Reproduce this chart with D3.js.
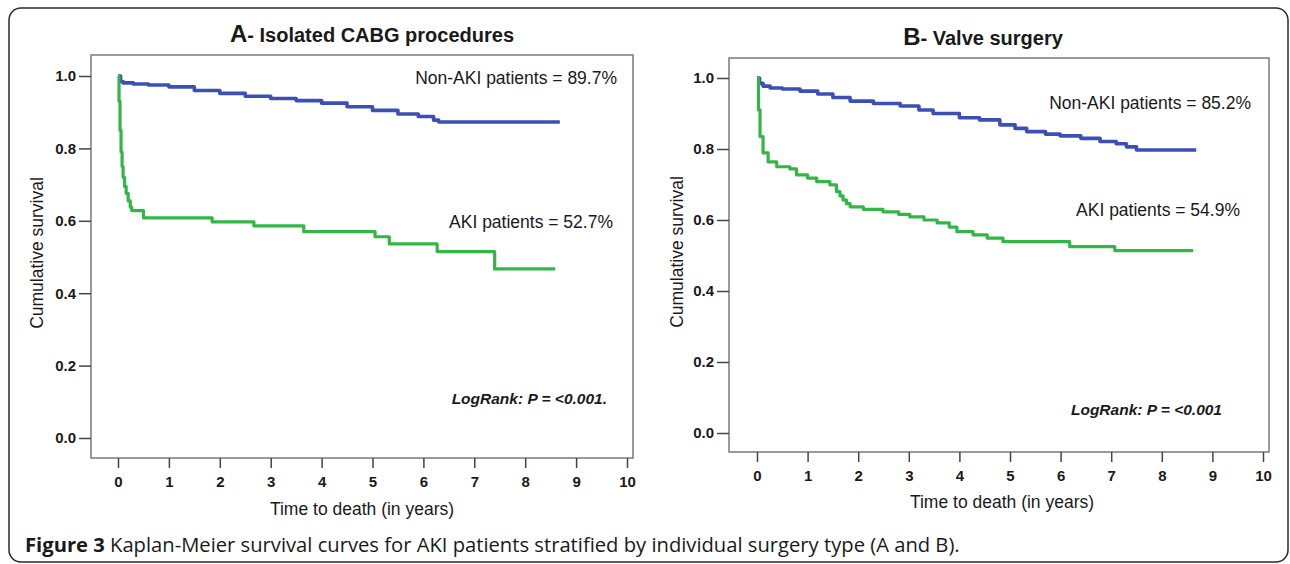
<!DOCTYPE html>
<html>
<head>
<meta charset="utf-8">
<script src="https://cdn.jsdelivr.net/npm/d3@7/dist/d3.min.js"></script>
<style>
  body { margin: 0; background: #fff; }
  text { font-family: "Liberation Sans", Arial, sans-serif; fill: #1a1a1a; }
</style>
</head>
<body>
<div id="chart"></div>
<script>
// survival data (time in years, cumulative survival)
const cabgNonAkiTime = [0, 0.05, 0.1, 0.3, 0.6, 1.0, 1.5, 2.0, 2.5, 3.0, 3.5, 4.0, 4.5, 5.0, 5.5, 5.9, 6.2, 6.3, 8.68];
const cabgNonAkiSurv = [1.0, 0.985, 0.981, 0.978, 0.975, 0.970, 0.960, 0.952, 0.944, 0.938, 0.932, 0.925, 0.915, 0.905, 0.895, 0.888, 0.878, 0.873, 0.873];
const cabgAkiTime = [0, 0.02, 0.04, 0.06, 0.08, 0.1, 0.13, 0.16, 0.2, 0.24, 0.27, 0.5, 1.85, 2.67, 3.65, 5.05, 5.33, 6.27, 7.4, 8.59];
const cabgAkiSurv = [1.0, 0.93, 0.85, 0.79, 0.75, 0.72, 0.695, 0.676, 0.655, 0.638, 0.628, 0.608, 0.597, 0.586, 0.570, 0.556, 0.536, 0.515, 0.467, 0.467];

const valveNonAkiTime = [0, 0.05, 0.12, 0.26, 0.5, 0.85, 1.2, 1.5, 1.84, 2.3, 2.83, 3.2, 3.48, 4.0, 4.4, 4.8, 5.1, 5.33, 5.7, 5.99, 6.4, 6.78, 7.1, 7.3, 7.5, 8.68];
const valveNonAkiSurv = [1.0, 0.985, 0.977, 0.972, 0.969, 0.963, 0.955, 0.945, 0.935, 0.928, 0.921, 0.91, 0.9, 0.888, 0.882, 0.868, 0.858, 0.849, 0.842, 0.837, 0.83, 0.821, 0.815, 0.806, 0.797, 0.797];
const valveAkiTime = [0, 0.03, 0.06, 0.12, 0.22, 0.39, 0.65, 0.78, 1.0, 1.18, 1.44, 1.57, 1.64, 1.70, 1.77, 1.84, 2.1, 2.49, 2.8, 3.02, 3.3, 3.56, 3.8, 3.95, 4.27, 4.55, 4.86, 6.18, 7.07, 8.62];
const valveAkiSurv = [1.0, 0.91, 0.835, 0.789, 0.764, 0.75, 0.744, 0.727, 0.718, 0.708, 0.699, 0.68, 0.668, 0.656, 0.646, 0.637, 0.63, 0.623, 0.616, 0.609, 0.6, 0.592, 0.58, 0.567, 0.558, 0.549, 0.539, 0.525, 0.514, 0.514];

const xTicks = [0, 1, 2, 3, 4, 5, 6, 7, 8, 9, 10];
const yTicks = [0, 0.2, 0.4, 0.6, 0.8, 1.0];

const blue = "#3c4fb5";
const green = "#34b548";

const svg = d3.select("#chart").append("svg")
  .attr("width", 1290)
  .attr("height", 564);

// outer rounded frame
svg.append("rect")
  .attr("x", 9).attr("y", 8)
  .attr("width", 1279).attr("height", 554)
  .attr("rx", 12)
  .attr("fill", "none")
  .attr("stroke", "#2a2a2a")
  .attr("stroke-width", 1.5);

function drawPanel(p) {
  const g = svg.append("g");

  const x = d3.scaleLinear().domain([0, 10]).range([p.x0, p.x10]);
  const y = d3.scaleLinear().domain([0, 1]).range([p.y0, p.y1]);

  // plot box
  g.append("rect")
    .attr("x", p.left).attr("y", p.top)
    .attr("width", p.right - p.left).attr("height", p.bottom - p.top)
    .attr("fill", "none")
    .attr("stroke", "#7a7a7a")
    .attr("stroke-width", 1.5);

  // y axis
  const yAxis = g.append("g")
    .attr("transform", `translate(${p.left},0)`)
    .call(d3.axisLeft(y).tickValues(yTicks).tickFormat(d3.format(".1f")).tickSize(12).tickPadding(3));
  yAxis.select(".domain").remove();

  // x axis
  const xAxis = g.append("g")
    .attr("transform", `translate(0,${p.bottom})`)
    .call(d3.axisBottom(x).tickValues(xTicks).tickSize(10).tickPadding(8));
  xAxis.select(".domain").remove();

  [xAxis, yAxis].forEach(a => a
    .attr("font-family", "'Liberation Sans', Arial, sans-serif")
    .attr("font-size", 15)
    .attr("font-weight", "bold"));

  g.selectAll(".tick line").attr("stroke", "#444").attr("stroke-width", 1.5);
  g.selectAll(".tick text").attr("fill", "#1a1a1a");

  // curves
  const line = d3.line()
    .x(d => x(d[0]))
    .y(d => y(d[1]))
    .curve(d3.curveStepAfter);

  p.series.forEach(s => {
    g.append("path")
      .datum(d3.zip(s.time, s.surv))
      .attr("fill", "none")
      .attr("stroke", s.color)
      .attr("stroke-width", s.width)
      .attr("stroke-linejoin", "round")
      .attr("d", line);
  });

  // title
  const t = g.append("text")
    .attr("x", p.titleX).attr("y", p.titleY)
    .attr("text-anchor", "middle")
    .style("font-size", "20px")
    .style("font-weight", "bold");
  t.append("tspan").style("font-size", "24px").text(p.titleLetter);
  t.append("tspan").text(p.titleRest);

  // axis titles
  g.append("text")
    .attr("transform", `translate(${p.yTitleX},${p.yTitleY}) rotate(-90)`)
    .attr("text-anchor", "middle")
    .style("font-size", "17.5px")
    .text("Cumulative survival");

  g.append("text")
    .attr("x", p.xTitleX).attr("y", p.xTitleY)
    .attr("text-anchor", "middle")
    .style("font-size", "17.5px")
    .text("Time to death (in years)");

  // annotations
  p.notes.forEach(n => {
    g.append("text")
      .attr("x", n.x).attr("y", n.y)
      .attr("text-anchor", "end")
      .style("font-size", n.italic ? "15.5px" : "17.5px")
      .style("font-weight", n.italic ? "bold" : "normal")
      .style("font-style", n.italic ? "italic" : "normal")
      .text(n.text);
  });
}

drawPanel({
  left: 91, right: 633, top: 55, bottom: 458,
  x0: 118, x10: 627, y0: 438, y1: 76,
  titleX: 372, titleY: 42, titleLetter: "A", titleRest: "- Isolated CABG procedures",
  yTitleX: 43, yTitleY: 253, xTitleX: 362, xTitleY: 515,
  series: [
    {time: cabgNonAkiTime, surv: cabgNonAkiSurv, color: blue, width: 3.6},
    {time: cabgAkiTime, surv: cabgAkiSurv, color: green, width: 3.2}
  ],
  notes: [
    {x: 617, y: 84, text: "Non-AKI patients = 89.7%"},
    {x: 613, y: 228, text: "AKI patients = 52.7%"},
    {x: 607, y: 404, text: "LogRank: P = <0.001.", italic: true}
  ]
});

drawPanel({
  left: 729, right: 1269, top: 58, bottom: 452,
  x0: 757, x10: 1263, y0: 433, y1: 78,
  titleX: 983, titleY: 45, titleLetter: "B", titleRest: "- Valve surgery",
  yTitleX: 683, yTitleY: 252, xTitleX: 1002, xTitleY: 508,
  series: [
    {time: valveNonAkiTime, surv: valveNonAkiSurv, color: blue, width: 3.6},
    {time: valveAkiTime, surv: valveAkiSurv, color: green, width: 3.2}
  ],
  notes: [
    {x: 1251, y: 109, text: "Non-AKI patients = 85.2%"},
    {x: 1240, y: 216, text: "AKI patients = 54.9%"},
    {x: 1222, y: 415, text: "LogRank: P = <0.001", italic: true}
  ]
});

// figure caption
const cap = svg.append("text")
  .attr("x", 25).attr("y", 552)
  .style("font-family", "'Open Sans', sans-serif")
  .style("font-size", "20.2px")
  .attr("fill", "#231f20");
cap.append("tspan").style("font-weight", "bold").text("Figure 3");
cap.append("tspan").text(" Kaplan-Meier survival curves for AKI patients stratified by individual surgery type (A and B).");
</script>
</body>
</html>
